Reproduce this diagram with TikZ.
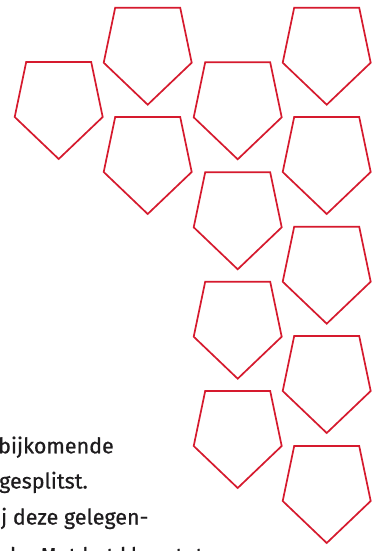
\documentclass[tikz,border=0pt]{standalone}
\usepackage{fontspec}
\newfontfamily\bodyfont{Fira Sans}[FakeBold=0.6]
\definecolor{shieldred}{RGB}{214,26,46}
\definecolor{inkdark}{RGB}{30,28,30}
\tikzset{
  shieldpent/.pic={
    \draw[shieldred,line width=1.7pt,line join=miter]
      (-32.5,0) -- (32.5,0) -- (44,55) -- (0,97) -- (-44,55) -- cycle;
  },
  bodytext/.style={anchor=base west,inner sep=0pt,text=inkdark,
    font=\bodyfont\fontsize{21.5}{36}\selectfont}
}
\begin{document}
\begin{tikzpicture}[x=1pt,y=-1pt]
\useasboundingbox (0,0) rectangle (379,551);
\clip (0,0) rectangle (379,551);
\fill[white] (0,0) rectangle (379,551);
% column A
\pic at (58.7,62) {shieldpent};
% column B
\pic at (147.7,7.7) {shieldpent};
\pic at (147.7,117) {shieldpent};
% column C
\pic at (237.7,62.3) {shieldpent};
\pic at (237.7,172.3) {shieldpent};
\pic at (237.7,281.7) {shieldpent};
\pic at (237.7,391) {shieldpent};
% column D
\pic at (326.7,7.7) {shieldpent};
\pic at (326.7,117) {shieldpent};
\pic at (326.7,226.7) {shieldpent};
\pic at (326.7,336) {shieldpent};
\pic at (326.7,446) {shieldpent};
% text
\node[bodytext] (t1) at (-2,453.3) {bijkomende};
\node[bodytext] (t2) at (-1,488.5) {gesplitst.};
\node[bodytext] (t3) at (1,524.5) {j deze gelegen-};
\node[bodytext] (t4) at (3,563) {de. Met het kleur tot};
\end{tikzpicture}
\end{document}
